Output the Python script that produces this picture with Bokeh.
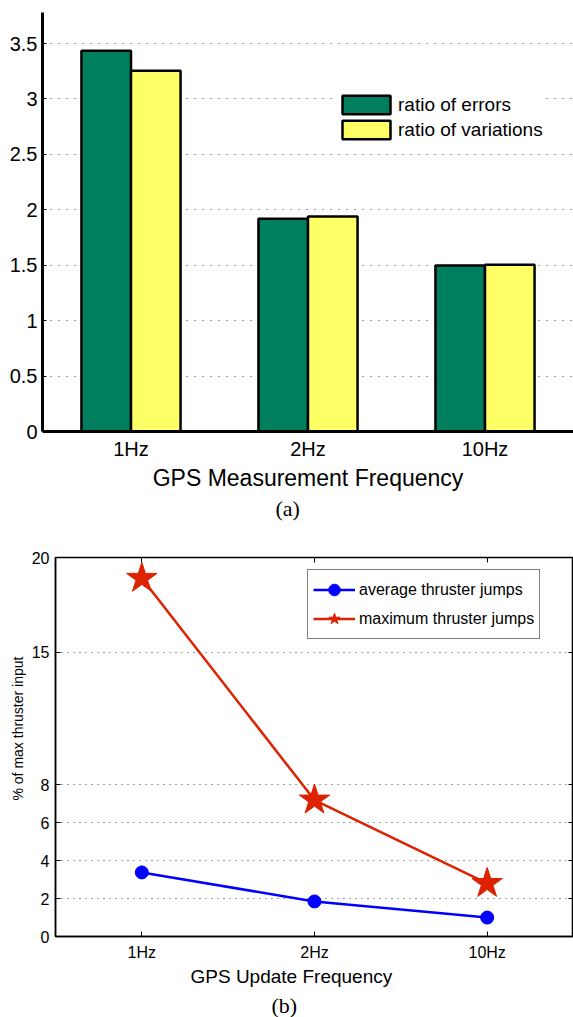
from bokeh.plotting import figure
from bokeh.layouts import column
from bokeh.models import (ColumnDataSource, FactorRange, Range1d, FixedTicker, Legend,
                          LegendItem, Title, LinearAxis, CategoricalAxis, CustomJSTickFormatter)
from bokeh.transform import dodge
from bokeh.embed import file_html
from bokeh.resources import INLINE

# ---------------- data ----------------
freqs = ["1Hz", "2Hz", "10Hz"]
ratio_errors = [3.435, 1.92, 1.497]
ratio_variations = [3.255, 1.94, 1.505]
y_ticks_a = [0, 0.5, 1, 1.5, 2, 2.5, 3, 3.5]

avg_jumps = [3.38, 1.85, 1.0]
max_jumps = [18.9, 7.2, 2.8]
y_ticks_b = [0, 2, 4, 6, 8, 15, 20]

FONT = "Liberation Sans"
SERIF = "Liberation Serif"
GREEN = "#007F5F"
YELLOW = "#FFFF66"
BLUE = "#0000FF"
RED = "#DD2200"

# ---------------- (a) bar chart ----------------
p1 = figure(x_range=FactorRange(factors=freqs, range_padding=0), y_range=Range1d(0, 3.78),
            frame_width=531, frame_height=419, output_backend="svg", toolbar_location=None,
            min_border_left=42, min_border_right=0, min_border_top=12, min_border_bottom=109)
p1.frame_align = False
p1.outline_line_color = None
p1.background_fill_color = "white"
p1.border_fill_color = "white"

src1 = ColumnDataSource(dict(freq=freqs, err=ratio_errors, var=ratio_variations))
r1 = p1.vbar(x=dodge("freq", -0.14, range=p1.x_range), top="err", width=0.28, source=src1,
             fill_color=GREEN, line_color="black", line_width=2.5)
r2 = p1.vbar(x=dodge("freq", 0.14, range=p1.x_range), top="var", width=0.28, source=src1,
             fill_color=YELLOW, line_color="black", line_width=2.5)

p1.xgrid.visible = False
p1.ygrid.grid_line_color = "#333333"
p1.ygrid.grid_line_dash = "1 7"
p1.ygrid.grid_line_width = 1

p1.yaxis.ticker = FixedTicker(ticks=y_ticks_a)
p1.yaxis.formatter = CustomJSTickFormatter(code="return String(tick)")
for ax in (p1.xaxis, p1.yaxis):
    ax.axis_line_width = 3
    ax.axis_line_color = "black"
    ax.major_tick_in = 4
    ax.major_tick_out = 0
    ax.minor_tick_line_color = None
    ax.major_label_text_font = FONT
    ax.major_label_text_font_size = "20px"
    ax.major_label_text_color = "black"
p1.yaxis.major_label_standoff = 5
p1.xaxis.major_label_standoff = 6
p1.xaxis.axis_label = "GPS Measurement Frequency"
p1.xaxis.axis_label_text_font = FONT
p1.xaxis.axis_label_text_font_size = "23px"
p1.xaxis.axis_label_text_font_style = "normal"
p1.xaxis.axis_label_text_color = "black"
p1.xaxis.axis_label_standoff = 2

leg1 = Legend(items=[LegendItem(label="ratio of errors", renderers=[r1]),
                     LegendItem(label="ratio of variations", renderers=[r2])],
              location=(294, 290), padding=0, spacing=2, glyph_width=60, glyph_height=23,
              label_height=23, label_standoff=2, border_line_color=None,
              background_fill_color="white", background_fill_alpha=1.0,
              label_text_font=FONT, label_text_font_size="19px", label_text_color="black")
p1.add_layout(leg1, "center")
p1.add_layout(Title(text="(a)", align="left", offset=233, text_font=SERIF, text_color="black",
                    text_font_size="22px", text_font_style="normal", standoff=0), "below")

# ---------------- (b) line chart ----------------
p2 = figure(x_range=FactorRange(factors=freqs, range_padding=0), y_range=Range1d(0, 20),
            frame_width=518, frame_height=379, output_backend="svg", toolbar_location=None,
            min_border_left=55, min_border_right=0, min_border_top=17, min_border_bottom=81)
p2.frame_align = False
p2.outline_line_color = "black"
p2.outline_line_width = 1.5
p2.background_fill_color = "white"
p2.border_fill_color = "white"

src2 = ColumnDataSource(dict(freq=freqs, avg=avg_jumps, mx=max_jumps))
l_max = p2.line("freq", "mx", source=src2, line_color=RED, line_width=2.5)
s_max = p2.scatter("freq", "mx", source=src2, marker="star", size=32,
                   fill_color=RED, line_color=RED)
l_avg = p2.line("freq", "avg", source=src2, line_color=BLUE, line_width=2.5)
s_avg = p2.scatter("freq", "avg", source=src2, marker="circle", size=13,
                   fill_color=BLUE, line_color=BLUE)

p2.xgrid.visible = False
p2.ygrid.grid_line_color = "#444444"
p2.ygrid.grid_line_dash = "1 5"
p2.ygrid.grid_line_width = 1

p2.yaxis.ticker = FixedTicker(ticks=y_ticks_b)
for ax in (p2.xaxis, p2.yaxis):
    ax.axis_line_width = 1.5
    ax.axis_line_color = "black"
    ax.major_tick_in = 5
    ax.major_tick_out = 0
    ax.minor_tick_line_color = None
    ax.major_label_text_font = FONT
    ax.major_label_text_font_size = "16px"
    ax.major_label_text_color = "black"
p2.yaxis.major_label_standoff = 6
p2.xaxis.major_label_standoff = 7

empty = CustomJSTickFormatter(code="return ''")
top_ax = CategoricalAxis(formatter=empty, major_tick_in=5, major_tick_out=0,
                         major_label_standoff=0, major_label_text_font_size="0px",
                         axis_line_color=None)
right_ax = LinearAxis(ticker=FixedTicker(ticks=y_ticks_b), formatter=empty, major_tick_in=5,
                      major_tick_out=0, major_label_standoff=0,
                      major_label_text_font_size="0px", minor_tick_line_color=None,
                      axis_line_color=None)
p2.add_layout(top_ax, "above")
p2.add_layout(right_ax, "right")

p2.add_layout(Title(text="% of max thruster input", align="left", offset=136, text_font=FONT,
                    text_color="black", text_font_size="14px", text_font_style="normal",
                    standoff=6), "left")
p2.add_layout(Title(text="GPS Update Frequency", align="left", offset=135, text_font=FONT,
                    text_color="black", text_font_size="19px", text_font_style="normal",
                    standoff=0), "below")
p2.add_layout(Title(text="(b)", align="left", offset=216, text_font=SERIF, text_color="black",
                    text_font_size="22px", text_font_style="normal", standoff=8), "below")

leg2 = Legend(items=[LegendItem(label="average thruster jumps", renderers=[l_avg, s_avg]),
                     LegendItem(label="maximum thruster jumps", renderers=[l_max, s_max])],
              location=(252, 297), padding=5, spacing=0, glyph_width=42, glyph_height=29,
              label_height=29, label_standoff=4, border_line_color="black",
              border_line_width=1, background_fill_color="white", background_fill_alpha=1.0,
              label_text_font=FONT, label_text_font_size="16px", label_text_color="black")
p2.add_layout(leg2, "center")

layout = column(p1, p2, spacing=0)
open("out.html", "w").write(file_html(layout, INLINE))
